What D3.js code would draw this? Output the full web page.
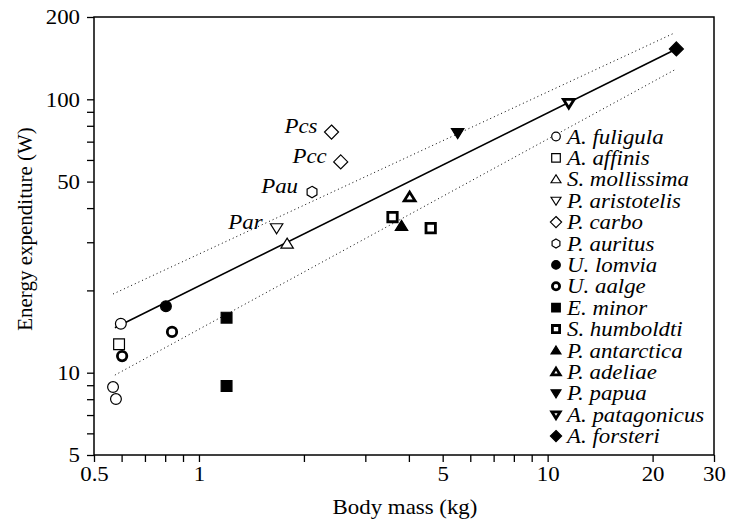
<!DOCTYPE html>
<html>
<head>
<meta charset="utf-8">
<script src="https://cdn.jsdelivr.net/npm/d3@7"></script>
<style>
  body { margin: 0; background: #fff; }
  svg text { font-family: "Liberation Serif", "Times New Roman", serif; fill: #000; }
</style>
</head>
<body>
<svg id="canvas" width="744" height="522"></svg>
<script>
// legend order
var species = ["A. fuligula", "A. affinis", "S. mollissima", "P. aristotelis", "P. carbo",
  "P. auritus", "U. lomvia", "U. aalge", "E. minor", "S. humboldti", "P. antarctica",
  "P. adeliae", "P. papua", "A. patagonicus", "A. forsteri"];

// measured points (body mass kg, energy W)
var pointSpecies = ["A. fuligula", "A. fuligula", "A. fuligula", "A. affinis", "S. mollissima",
  "P. aristotelis", "P. carbo", "P. carbo", "P. auritus", "U. lomvia", "U. aalge", "U. aalge",
  "E. minor", "E. minor", "S. humboldti", "S. humboldti", "P. antarctica", "P. adeliae",
  "P. papua", "A. patagonicus", "A. forsteri"];
var pointMass = [0.597, 0.567, 0.578, 0.59, 1.79, 1.67, 2.40, 2.55, 2.11, 0.804, 0.602, 0.837,
  1.20, 1.20, 3.59, 4.62, 3.81, 4.02, 5.52, 11.5, 23.4];
var pointEnergy = [15.1, 8.86, 8.01, 12.7, 29.6, 33.8, 75.9, 59.0, 45.8, 17.5, 11.5, 14.1,
  15.9, 8.94, 37.1, 33.8, 34.4, 43.9, 75.3, 96.9, 152.8];

// abbreviations written next to some points
var labelText = ["Pcs", "Pcc", "Pau", "Par"];
var labelMass = [2.40, 2.55, 2.11, 1.67];
var labelEnergy = [75.9, 59.0, 45.8, 33.8];

// regression line and its dotted bands (end points)
var fitMass = [0.574, 23.4], fitEnergy = [14.6, 152.8];
var upperMass = [0.567, 23.1], upperEnergy = [19.4, 174.8];
var lowerMass = [0.574, 23.1], lowerEnergy = [9.8, 128];

// ticks
var xTicks = [0.5, 0.6, 0.7, 0.8, 0.9, 1, 2, 3, 4, 5, 6, 7, 8, 9, 10, 20, 30];
var xLabels = [0.5, 1, 5, 10, 20, 30];
var yTicks = [5, 6, 7, 8, 9, 10, 20, 30, 40, 50, 60, 70, 80, 90, 100, 200];
var yLabels = [5, 10, 50, 100, 200];

// marker look for each species
var markerStyle = {
  "A. fuligula":    {shape: "circle",   mode: "open"},
  "A. affinis":     {shape: "square",   mode: "open"},
  "S. mollissima":  {shape: "triangle", mode: "open"},
  "P. aristotelis": {shape: "down",     mode: "open"},
  "P. carbo":       {shape: "diamond",  mode: "open"},
  "P. auritus":     {shape: "hexagon",  mode: "open"},
  "U. lomvia":      {shape: "circle",   mode: "filled"},
  "U. aalge":       {shape: "circle",   mode: "bold"},
  "E. minor":       {shape: "square",   mode: "filled"},
  "S. humboldti":   {shape: "square",   mode: "bold"},
  "P. antarctica":  {shape: "triangle", mode: "filled"},
  "P. adeliae":     {shape: "triangle", mode: "bold"},
  "P. papua":       {shape: "down",     mode: "filled"},
  "A. patagonicus": {shape: "down",     mode: "bold"},
  "A. forsteri":    {shape: "diamond",  mode: "filled"}
};

var margin = {top: 17, right: 30, bottom: 67, left: 94};
var width = 744 - margin.left - margin.right;
var height = 522 - margin.top - margin.bottom;
var fontSize = 21;
var stretchX = 1.09; // the text in the original is a bit wider than tall

var svg = d3.select("#canvas");
var g = svg.append("g").attr("transform", "translate(" + margin.left + "," + margin.top + ")");

var xScale = d3.scaleLog().domain([0.5, 30]).range([0, width]);
var yScale = d3.scaleLog().domain([5, 200]).range([height, 0]);

// widen a horizontal text around its own anchor
function stretch(sel) {
  sel.each(function() {
    var t = d3.select(this);
    var x = +t.attr("x") || 0;
    t.attr("x", x / stretchX).attr("transform", "scale(" + stretchX + ",1)");
  });
}

function shapePath(shape, r) {
  var p;
  if (shape == "circle") {
    return "M" + r + ",0A" + r + "," + r + " 0 1,1 " + (-r) + ",0A" + r + "," + r + " 0 1,1 " + r + ",0Z";
  }
  if (shape == "square") p = [[-r, -r], [r, -r], [r, r], [-r, r]];
  if (shape == "triangle") p = [[0, -r * 1.05], [r * 1.15, r * 0.8], [-r * 1.15, r * 0.8]];
  if (shape == "down") p = [[0, r * 1.05], [r * 1.15, -r * 0.8], [-r * 1.15, -r * 0.8]];
  if (shape == "diamond") p = [[0, -r * 1.3], [r * 1.3, 0], [0, r * 1.3], [-r * 1.3, 0]];
  if (shape == "hexagon") p = d3.range(6).map(function(i) {
    var a = Math.PI / 3 * i - Math.PI / 2;
    return [r * 1.05 * Math.cos(a), r * 1.05 * Math.sin(a)];
  });
  return "M" + p.map(function(q) { return q.join(","); }).join("L") + "Z";
}

function drawMarker(sel, name, r) {
  var st = markerStyle[name];
  var shrink = st.mode == "bold" ? 1.3 : 0.6;
  sel.append("path")
    .attr("d", shapePath(st.shape, r - shrink))
    .attr("fill", st.mode == "filled" ? "#000" : "#fff")
    .attr("stroke", "#000")
    .attr("stroke-width", st.mode == "bold" ? 2.8 : 1.2)
    .attr("stroke-linejoin", "miter");
}

// axes
var xAxis = d3.axisBottom(xScale).tickValues(xTicks).tickSize(7).tickPadding(4)
  .tickFormat(function(d) { return xLabels.indexOf(d) >= 0 ? d : ""; });
var yAxis = d3.axisLeft(yScale).tickValues(yTicks).tickSize(7).tickPadding(7)
  .tickFormat(function(d) { return yLabels.indexOf(d) >= 0 ? d : ""; });

var gx = g.append("g").attr("class", "x axis")
  .attr("transform", "translate(0," + height + ")").call(xAxis);
var gy = g.append("g").attr("class", "y axis").call(yAxis);
[gx, gy].forEach(function(a) {
  a.select(".domain").remove();
  a.selectAll("line").attr("stroke", "#000").attr("stroke-width", 1.3);
  a.selectAll("text").attr("font-size", fontSize).attr("font-family", "Liberation Serif").attr("fill", "#000")
    .call(stretch);
});

// frame
g.append("rect").attr("width", width).attr("height", height)
  .attr("fill", "none").attr("stroke", "#000").attr("stroke-width", 1.5);

// bands and fit
var line = d3.line().x(function(d) { return xScale(d[0]); }).y(function(d) { return yScale(d[1]); });
g.append("path").datum(d3.zip(upperMass, upperEnergy)).attr("d", line)
  .attr("fill", "none").attr("stroke", "#000").attr("stroke-width", 1).attr("stroke-dasharray", "1,3");
g.append("path").datum(d3.zip(lowerMass, lowerEnergy)).attr("d", line)
  .attr("fill", "none").attr("stroke", "#000").attr("stroke-width", 1).attr("stroke-dasharray", "1,3");
g.append("path").datum(d3.zip(fitMass, fitEnergy)).attr("d", line)
  .attr("fill", "none").attr("stroke", "#000").attr("stroke-width", 1.6);

// points
var points = d3.range(pointMass.length).map(function(i) {
  return {name: pointSpecies[i], m: pointMass[i], e: pointEnergy[i]};
});
g.selectAll("g.pt").data(points).enter().append("g").attr("class", "pt")
  .attr("transform", function(d) { return "translate(" + xScale(d.m) + "," + yScale(d.e) + ")"; })
  .each(function(d) { drawMarker(d3.select(this), d.name, 6); });

// point labels
g.selectAll("text.lab").data(labelText).enter().append("text").attr("class", "lab")
  .attr("x", function(d, i) { return xScale(labelMass[i]) - 14; })
  .attr("y", function(d, i) { return yScale(labelEnergy[i]) + 1; })
  .attr("text-anchor", "end")
  .attr("font-size", fontSize).attr("font-style", "italic")
  .text(function(d) { return d; })
  .call(stretch);

// legend
var legend = g.append("g").attr("transform", "translate(" + (556 - margin.left) + "," + (136.5 - margin.top) + ")");
var rows = legend.selectAll("g").data(species).enter().append("g")
  .attr("transform", function(d, i) { return "translate(0," + i * 21.4 + ")"; });
rows.each(function(d) { drawMarker(d3.select(this), d, 4.9); });
rows.append("text").attr("x", 11).attr("dy", "0.34em")
  .attr("font-size", fontSize).attr("font-style", "italic")
  .text(function(d) { return d; })
  .call(stretch);

// axis titles
svg.append("text")
  .attr("x", 405).attr("y", 514)
  .attr("text-anchor", "middle").attr("font-size", fontSize)
  .text("Body mass (kg)")
  .call(stretch);
svg.append("text")
  .attr("transform", "translate(32,229) rotate(-90)")
  .attr("text-anchor", "middle").attr("font-size", fontSize)
  .text("Energy expenditure (W)");
</script>
</body>
</html>
